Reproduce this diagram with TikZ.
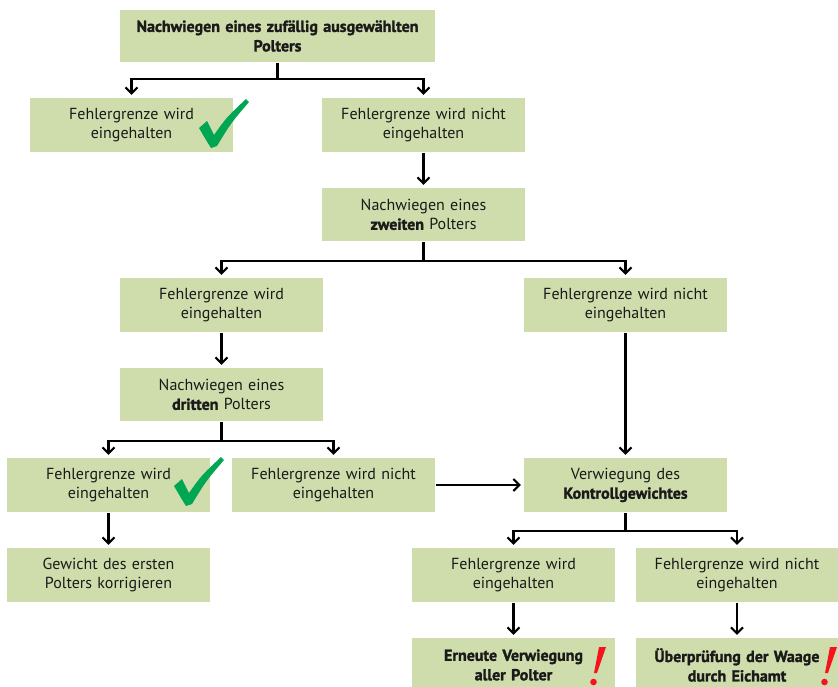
\documentclass[tikz,border=0pt]{standalone}
\usepackage{fontspec}
\setmainfont{PT Sans}[BoldFeatures={FakeBold=1.6}]
\usetikzlibrary{arrows.meta,calc}

\definecolor{boxgreen}{HTML}{CFDDAC}
\definecolor{tickgreen}{HTML}{00A651}
\definecolor{bangred}{HTML}{F5141E}
\definecolor{textgray}{HTML}{1A1A1A}

\begin{document}
\begin{tikzpicture}[
    x = 1pt, y = -1pt,
    line width = 2.1pt,
    >={Straight Barb[length=6pt,width=12pt]},
    box/.style = {
      fill = boxgreen,
      text = textgray,
      minimum width = 203pt,
      minimum height = 54pt,
      text width = 198pt,
      align = center,
      inner sep = 0pt,
      font = \fontsize{16}{19.5}\selectfont},
    link/.style = {->, shorten >= 2pt},
    tick/.pic = {
      \fill[tickgreen] (0,0) .. controls (-5,-8) .. (-12,-20) -- (-4,-27)
        .. controls (0,-20) .. (3,-13) .. controls (15,-30) .. (35,-49)
        -- (38,-46) .. controls (20,-25) .. (6,-2) -- cycle;},
    bang/.pic = {
      \fill[bangred] (0,0) -- (7,0) -- (-2,26) -- (-5,26) -- cycle;
      \fill[bangred] (-5.5,35) circle (3.3);}
    ]
  % canvas as in the screenshot
  \useasboundingbox (0,0) rectangle (838,686);

  % first weighing
  \node[box, minimum width=315pt, minimum height=52pt, text width=310pt] (top) at (277.5,36)
    {\bfseries Nachwiegen eines zufällig ausgewählten\\ Polters};
  \node[box] (ok1) at (131.5,125) {Fehlergrenze wird\\ eingehalten};
  \node[box] (fail1) at (423.5,125) {Fehlergrenze wird nicht\\ eingehalten};

  % second weighing
  \node[box, minimum height=53pt] (second) at (423.5,214.5)
    {Nachwiegen eines\\ \textbf{zweiten} Polters};
  \node[box] (ok2) at (221.5,305) {Fehlergrenze wird\\ eingehalten};
  \node[box] (fail2) at (625.5,305) {Fehlergrenze wird nicht\\ eingehalten};

  % third weighing
  \node[box, minimum height=53pt] (third) at (221.5,394.5)
    {Nachwiegen eines\\ \textbf{dritten} Polters};
  \node[box] (ok3) at (108.5,485) {Fehlergrenze wird\\ eingehalten};
  \node[box] (fail3) at (333.5,485) {Fehlergrenze wird nicht\\ eingehalten};
  \node[box] (fix) at (108.5,575) {Gewicht des ersten\\ Polters korrigieren};

  % control weight
  \node[box] (control) at (625.5,485) {Verwiegung des\\ \textbf{Kontrollgewichtes}};
  \node[box] (ok4) at (513.5,575) {Fehlergrenze wird\\ eingehalten};
  \node[box, minimum width=202pt] (fail4) at (737,575) {Fehlergrenze wird nicht\\ eingehalten};
  \node[box] (redo) at (513.5,665) {\bfseries Erneute Verwiegung\\ aller Polter};
  \node[box, minimum width=202pt] (check) at (737,665) {\bfseries Überprüfung der Waage\\ durch Eichamt};

  % marks
  \pic at (211,148) {tick};
  \pic at (186,506) {tick};
  \pic at (599,647) {bang};
  \pic at (830,647) {bang};

  % connectors
  \draw[link] (top.south) -- ++(0,16) -| (ok1.north);
  \draw[link] (top.south) -- ++(0,16) -| (fail1.north);
  \draw[link] (fail1) -- (second);
  \draw[link] (second.south) -- ++(0,19) -| (ok2.north);
  \draw[link] (second.south) -- ++(0,19) -| (fail2.north);
  \draw[link] (ok2) -- (third);
  \draw[link] (third.south) -- ++(0,19) -| (ok3.north);
  \draw[link] (third.south) -- ++(0,19) -| (fail3.north);
  \draw[link] (ok3) -- (fix);
  \draw[link] (fail2) -- (control);
  \draw[link] (fail3) -- (control);
  \draw[link] (control.south) -- ++(0,18) -| (ok4.north);
  \draw[link] (control.south) -- ++(0,18) -| (fail4.north);
  \draw[link] (ok4) -- (redo);
  \draw[link] (fail4) -- (check);

\end{tikzpicture}
\end{document}
